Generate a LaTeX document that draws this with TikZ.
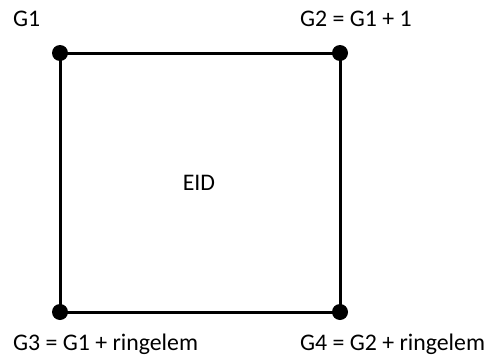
\documentclass[tikz,border=0pt]{standalone}
\usepackage{fontspec}
\setmainfont{Carlito}
\begin{document}
\begin{tikzpicture}[x=1pt,y=1pt,
  lbl/.style={inner sep=0pt,font=\fontsize{23.8}{28}\selectfont},
  edge/.style={line width=3pt},
  dot/.style={circle,fill=black,inner sep=0pt,minimum size=16pt}]
\useasboundingbox (0,0) rectangle (490,-356);
\coordinate (c1) at (60,-53);
\coordinate (c2) at (340,-53);
\coordinate (c3) at (60,-312);
\coordinate (c4) at (340,-312);
\draw[edge] (c1) -- (c2) -- (c4) -- (c3) -- cycle;
\node[dot] (d1) at (c1) {};
\node[dot] (d2) at (c2) {};
\node[dot] (d3) at (c3) {};
\node[dot] (d4) at (c4) {};
\node[lbl,anchor=base west] (g1) at (13,-27) {G1};
\node[lbl,anchor=base west] (g2) at (300,-27) {G2 = G1 + 1};
\node[lbl,anchor=base west] (g3) at (13,-350.5) {G3 = G1 + ringelem};
\node[lbl,anchor=base west] (g4) at (300,-350.5) {G4 = G2 + ringelem};
\node[lbl,anchor=base] (eid) at (199,-190) {EID};
\end{tikzpicture}
\end{document}
